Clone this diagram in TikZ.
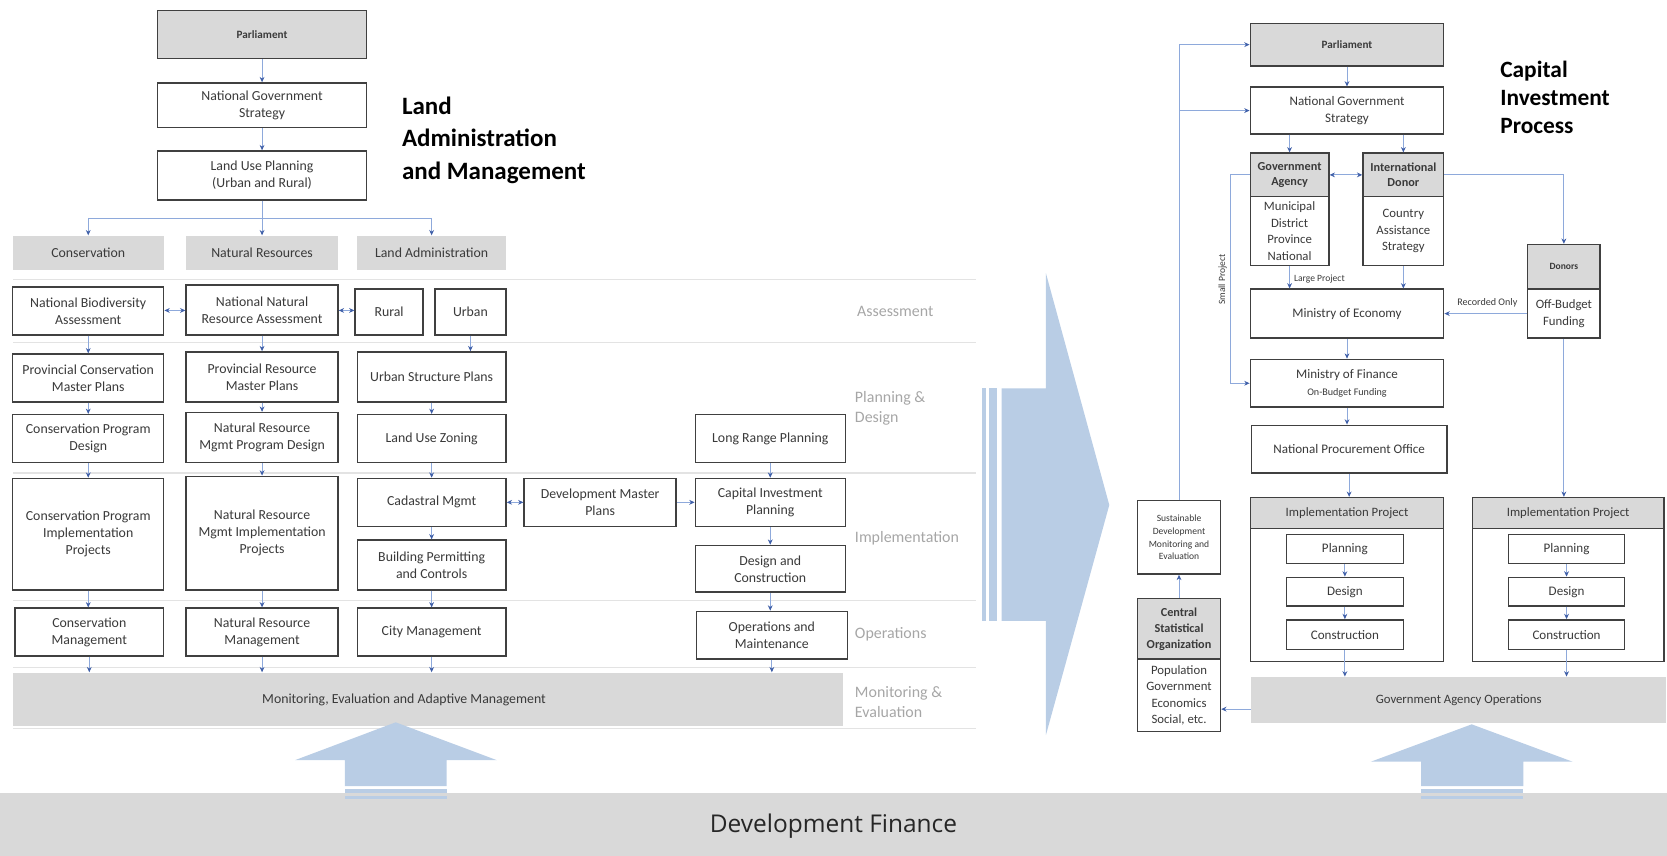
\documentclass[tikz,border=0pt]{standalone}
\usepackage{fontspec}
\setmainfont{Carlito}
\newfontfamily\dffont{Open Sans}
\usetikzlibrary{arrows.meta,fit,calc}
\definecolor{boxc}{HTML}{404040}
\definecolor{txtc}{HTML}{3A3A3A}
\definecolor{grayf}{HTML}{D9D9D9}
\definecolor{sepc}{HTML}{E3E3E3}
\definecolor{linec}{HTML}{8EA9DB}
\definecolor{tipc}{HTML}{3F5FA8}
\definecolor{bigc}{HTML}{B9CDE5}
\definecolor{lblc}{HTML}{A6A6A6}
\newcommand\vconn[2]{\draw[conn] (#1.south) -- (#1.south |- #2.north);}
% box with its text: [options]{name}{corners}{text}
\newcommand\bx[4][]{%
  \node[box,#1,fit={#3}] (#2) {};
  \node[box,#1,draw=none,fill=none] (#2t) at (#2.center) {#4};}
\begin{document}
\begin{tikzpicture}[x=1pt,y=-1pt,
 box/.style={draw=boxc, line width=1.3pt, fill=white, inner sep=0pt, align=center, text=txtc, font=\fontsize{13}{16}\selectfont},
 gbox/.style={box, fill=grayf},
 hdr/.style={box, draw=none, fill=grayf},
 rbox/.style={box, font=\fontsize{12.3}{15.5}\selectfont},
 conn/.style={draw=linec, line width=0.8pt, -{Stealth[length=5pt,width=4.5pt,color=tipc]}},
 dconn/.style={draw=linec, line width=0.8pt, {Stealth[length=5pt,width=4.5pt,color=tipc]}-{Stealth[length=5pt,width=4.5pt,color=tipc]}},
 plainline/.style={draw=linec, line width=0.8pt},
 sepline/.style={draw=sepc, line width=1.2pt},
 rowlbl/.style={anchor=west, text=lblc, align=left, font=\fontsize{15}{19}\selectfont, inner sep=0pt},
 ttl/.style={anchor=north west, align=left, font=\bfseries\fontsize{23.5}{30.5}\selectfont, text=black, inner sep=0pt},
 txt/.style={inner sep=0pt, text=txtc},
]
\useasboundingbox (0,0) rectangle (1568,805);

% ---------------- separators (left) ----------------
\foreach \yy in {263,322,445,565,628,685}{\draw[sepline] (12,\yy) -- (918,\yy);}

% ---------------- LEFT: top chain ----------------
\bx[gbox, font=\bfseries\fontsize{10.5}{13}\selectfont]{lparl}{(148,10)(345,55)}{Parliament}
\bx{lngs}{(148,78)(345,120)}{National Government\\Strategy}
\bx{llup}{(148,142)(345,188)}{Land Use Planning\\(Urban and Rural)}
\node[ttl] (ltitle) at (378,91) {Land\\Administration\\and Management};

\bx[hdr]{hcons}{(12,222)(154,254)}{Conservation}
\bx[hdr]{hnat}{(175,222)(318,254)}{Natural Resources}
\bx[hdr]{hland}{(336,222)(476,254)}{Land Administration}

\coordinate (br1) at (83,205);
\coordinate (br2) at (246.5,205);
\coordinate (br3) at (406,205);
\draw[conn] (lparl.south) -- (lngs.north);
\draw[conn] (lngs.south) -- (llup.north);
\draw[plainline] (llup.south) -- (br2);
\draw[plainline] (br1) -- (br3);
\draw[conn] (br1) -- (hcons.north);
\draw[conn] (br2) -- (hnat.north);
\draw[conn] (br3) -- (hland.north);

% Assessment
\bx{nba}{(12,270)(154,315)}{National Biodiversity\\Assessment}
\bx{nnra}{(175,268)(318,315)}{National Natural\\Resource Assessment}
\bx{rural}{(334,272)(398,315)}{Rural}
\bx{urban}{(409,272)(476,315)}{Urban}
% Planning
\bx{pcmp}{(12,333)(154,378)}{Provincial Conservation\\Master Plans}
\bx{prmp}{(175,331)(318,378)}{Provincial Resource\\Master Plans}
\bx{usp}{(336,331)(476,378)}{Urban Structure Plans}
\bx{cpd}{(12,390)(154,435)}{Conservation Program\\Design}
\bx{nrmpd}{(175,388)(318,435)}{Natural Resource\\Mgmt Program Design}
\bx{luz}{(336,390)(476,435)}{Land Use Zoning}
\bx{lrp}{(654,390)(795,435)}{Long Range Planning}
% Implementation
\bx{cpip}{(12,450)(154,555)}{Conservation Program\\Implementation\\Projects}
\bx{nrmip}{(175,448)(318,555)}{Natural Resource\\Mgmt Implementation\\Projects}
\bx{cad}{(336,450)(476,495)}{Cadastral Mgmt}
\bx{dmp}{(493,450)(636,495)}{Development Master\\Plans}
\bx{cip}{(654,450)(795,495)}{Capital Investment\\Planning}
\bx{bpc}{(336,508)(476,555)}{Building Permitting\\and Controls}
\bx{dc}{(654,513)(795,557)}{Design and\\Construction}
% Operations
\bx{cm}{(14,572)(154,617)}{Conservation\\Management}
\bx{nrm}{(175,572)(318,617)}{Natural Resource\\Management}
\bx{city}{(336,572)(476,617)}{City Management}
\bx{om}{(655,575)(797,620)}{Operations and\\Maintenance}
% Monitoring band
\node[hdr, fit={(12,633)(793,683)}] (mon) {};
\node[txt, font=\fontsize{13}{16}\selectfont] (montxt) at (380,658) {Monitoring, Evaluation and Adaptive Management};

% row labels
\node[rowlbl] (l1) at (806,293) {Assessment};
\node[rowlbl] (l2) at (804,384) {Planning \&\\Design};
\node[rowlbl] (l3) at (804,506) {Implementation};
\node[rowlbl] (l4) at (804,597) {Operations};
\node[rowlbl] (l5) at (804,660) {Monitoring \&\\Evaluation};

% left connectors
\draw[dconn] (nba.east |- 0,292) -- (nnra.west |- 0,292);
\draw[dconn] (nnra.east |- 0,292) -- (rural.west |- 0,292);
\vconn{nba}{pcmp} \vconn{pcmp}{cpd} \vconn{cpd}{cpip} \vconn{cpip}{cm} \vconn{cm}{mon}
\vconn{nnra}{prmp} \vconn{prmp}{nrmpd} \vconn{nrmpd}{nrmip} \vconn{nrmip}{nrm} \vconn{nrm}{mon}
\vconn{urban}{usp} \vconn{usp}{luz} \vconn{luz}{cad} \vconn{cad}{bpc} \vconn{bpc}{city} \vconn{city}{mon}
\vconn{lrp}{cip} \vconn{cip}{dc} \vconn{dc}{om} \vconn{om}{mon}
\draw[dconn] (cad.east) -- (dmp.west);
\draw[conn] (dmp.east) -- (cip.west);

% ---------------- Big arrows ----------------
\fill[grayf] (0,746) rectangle (1568,805);
\node[txt, font=\dffont\fontsize{23}{27}\selectfont, text=black!85] (devfin) at (784,777) {Development Finance};

\fill[bigc] (942.2,365.3) -- (983.8,365.3) -- (983.8,257) -- (1043.4,475) -- (983.8,691.4) -- (983.8,583.9) -- (942.2,583.9) -- cycle;
\fill[bigc] (923.4,365.3) rectangle (927.2,583.9);
\fill[bigc] (930.6,365.3) rectangle (938.2,583.9);

\fill[bigc] (324.5,739.4) -- (324.5,715) -- (277.5,715) -- (372.2,679.4) -- (467.3,715) -- (420.2,715) -- (420.2,739.4) -- cycle;
\fill[bigc] (324.5,742.2) rectangle (420.2,746);
\fill[bigc] (324.5,749) rectangle (420.2,751.7);

\fill[bigc] (1336.6,739.4) -- (1336.6,716.5) -- (1289.3,716.5) -- (1384.3,681.3) -- (1479.3,716.5) -- (1432.9,716.5) -- (1432.9,739.4) -- cycle;
\fill[bigc] (1336.6,742.2) rectangle (1432.9,746);
\fill[bigc] (1336.6,749) rectangle (1432.9,751.7);

% ---------------- RIGHT ----------------
\bx[gbox, font=\bfseries\fontsize{10.5}{13}\selectfont]{rparl}{(1176,22)(1358,62)}{Parliament}
\bx[rbox]{rngs}{(1176,82)(1358,126)}{National Government\\Strategy}
\node[ttl, font=\bfseries\fontsize{22}{26.5}\selectfont] (rtitle) at (1411,57) {Capital\\Investment\\Process};

\bx[gbox, font=\bfseries\fontsize{11.5}{14}\selectfont]{gah}{(1176,144)(1250,185)}{Government\\Agency}
\bx[rbox, font=\fontsize{12}{15.5}\selectfont]{gab}{(1176,185)(1250,250)}{Municipal\\District\\Province\\National}
\bx[gbox, font=\bfseries\fontsize{11.5}{14}\selectfont]{idh}{(1282,144)(1358,185)}{International\\Donor}
\bx[rbox, font=\fontsize{12}{15.5}\selectfont]{idb}{(1282,185)(1358,250)}{Country\\Assistance\\Strategy}
\bx[gbox, font=\bfseries\fontsize{9}{11}\selectfont]{doh}{(1437,230)(1505,272)}{Donors}
\bx[rbox, font=\fontsize{12}{15.5}\selectfont]{dob}{(1437,272)(1505,318)}{Off-Budget\\Funding}
\bx[rbox]{moe}{(1176,272)(1358,318)}{Ministry of Economy}
\bx[rbox]{mof}{(1176,338)(1358,383)}{Ministry of Finance\\{\fontsize{9.5}{12}\selectfont On-Budget Funding}}
\bx[rbox]{npo}{(1177,400)(1361,445)}{National Procurement Office}

\node[box, fit={(1176,468)(1358,622)}] (ip1) {};
\bx[gbox, font=\fontsize{12}{15}\selectfont]{ip1h}{(1176,468)(1358,497)}{Implementation Project}
\bx[rbox]{p1}{(1210,503)(1320,530)}{Planning}
\bx[rbox]{d1}{(1210,543)(1320,570)}{Design}
\bx[rbox]{c1}{(1210,583)(1320,611)}{Construction}

\node[box, fit={(1385,468)(1565,622)}] (ip2) {};
\bx[gbox, font=\fontsize{12}{15}\selectfont]{ip2h}{(1385,468)(1565,497)}{Implementation Project}
\bx[rbox]{p2}{(1419,503)(1528,530)}{Planning}
\bx[rbox]{d2}{(1419,543)(1528,570)}{Design}
\bx[rbox]{c2}{(1419,583)(1528,611)}{Construction}

\bx[hdr, font=\fontsize{12}{15}\selectfont]{gao}{(1177,637)(1567,680)}{Government Agency Operations}

\bx[box, font=\fontsize{9}{12}\selectfont]{sd}{(1070,471)(1148,540)}{Sustainable\\Development\\Monitoring and\\Evaluation}
\bx[gbox, font=\bfseries\fontsize{11.5}{15}\selectfont]{csoh}{(1070,563)(1148,620)}{Central\\Statistical\\Organization}
\bx[rbox, font=\fontsize{12}{15.3}\selectfont]{csob}{(1070,620)(1148,688)}{Population\\Government\\Economics\\Social, etc.}

% right connectors
\vconn{rparl}{rngs}
\draw[conn] (gah.north |- rngs.south) -- (gah.north);
\draw[conn] (idh.north |- rngs.south) -- (idh.north);
\draw[dconn] (gah.east) -- (idh.west);
\draw[conn] (gah.west) -- ++(-18,0) |- (mof.west);
\node[txt, rotate=90, font=\fontsize{9}{10}\selectfont] (sptxt) at (1150,263) {Small Project};
\vconn{gab}{moe}
\vconn{idb}{moe}
\node[txt, font=\fontsize{9}{10}\selectfont, anchor=west] (lptxt) at (1217,262) {Large Project};
\draw[conn] (idh.east) -| (doh.north);
\draw[conn] (dob.west |- moe.east) -- (moe.east);
\node[txt, font=\fontsize{9.5}{11}\selectfont] (rotxt) at (1399,285) {Recorded Only};
\vconn{moe}{mof} \vconn{mof}{npo} \vconn{npo}{ip1h}
\vconn{dob}{ip2h}
\vconn{p1}{d1} \vconn{d1}{c1} \vconn{c1}{gao}
\vconn{p2}{d2} \vconn{d2}{c2} \vconn{c2}{gao}
\draw[conn] (gao.west |- 0,667) -- (csob.east |- 0,667);
\draw[conn] (csoh.north) -- (sd.south);
\draw[conn] (sd.north) |- (rparl.west);
\draw[conn] (sd.north |- rngs.west) -- (rngs.west);
\end{tikzpicture}
\end{document}
